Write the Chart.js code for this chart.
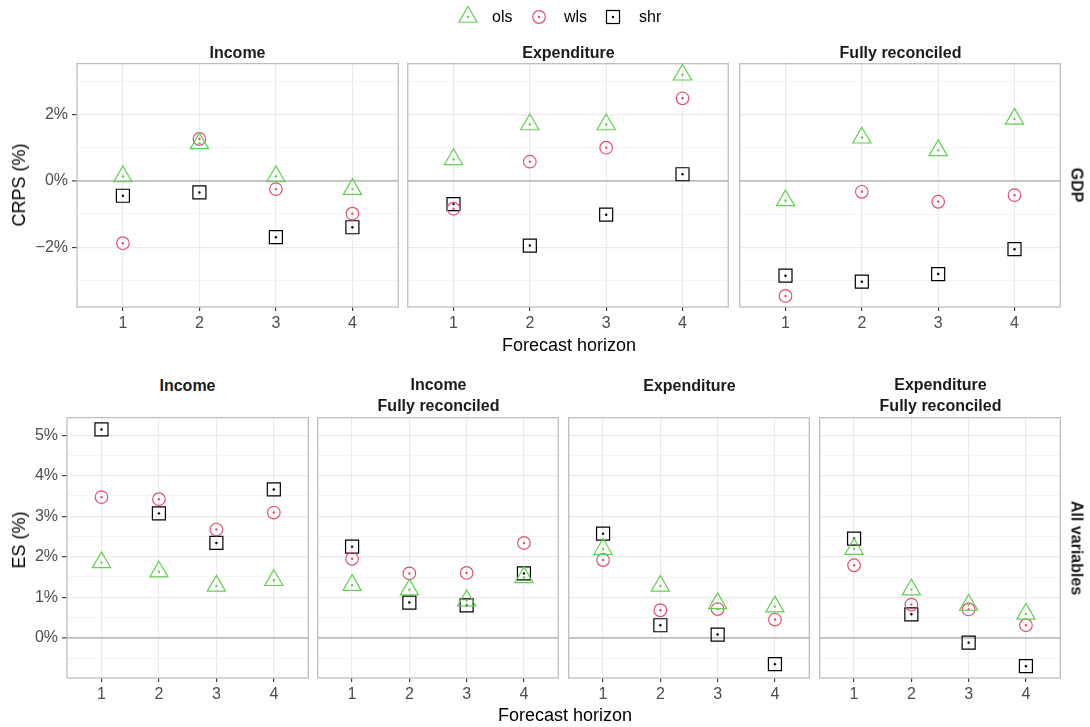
<!DOCTYPE html>
<html>
<head>
<meta charset="utf-8">
<script src="https://cdn.jsdelivr.net/npm/chart.js@4.4.1/dist/chart.umd.min.js"></script>
<style>
  body { margin: 0; background: #fff; font-family: "Liberation Sans", Arial, sans-serif; }
  #wrap { position: relative; width: 1090px; height: 727px; overflow: hidden; }
  #wrap canvas, .lbl, .leg { position: absolute; }
  .lbl { white-space: nowrap; transform: translate(-50%, -50%); line-height: 1; }
  .strip { font-weight: bold; font-size: 16px; color: #1A1A1A; text-align: center; line-height: 21px; }
  .axt { font-size: 18px; color: #000; }
  .leg { font-size: 16px; color: #000; line-height: 1; }
</style>
</head>
<body>
<div id="wrap"></div>
<script>
const horizons = [1, 2, 3, 4];
const methods = ['ols', 'wls', 'shr'];
const colours = { ols: '#61D04F', wls: '#DF536B', shr: '#000000' };
const shapes = { ols: 'triangle', wls: 'circle', shr: 'rect' };
const radii = { ols: 10.5, wls: 6.3, shr: 9.2 };

// CRPS, GDP row
const crpsIncomeOls = [0.13, 1.13, 0.13, -0.25];
const crpsIncomeWls = [-1.88, 1.26, -0.25, -0.99];
const crpsIncomeShr = [-0.45, -0.35, -1.70, -1.40];
const crpsExpOls = [0.65, 1.70, 1.70, 3.20];
const crpsExpWls = [-0.84, 0.58, 1.00, 2.49];
const crpsExpShr = [-0.70, -1.95, -1.02, 0.20];
const crpsFullOls = [-0.59, 1.30, 0.92, 1.87];
const crpsFullWls = [-3.47, -0.33, -0.63, -0.43];
const crpsFullShr = [-2.86, -3.04, -2.81, -2.06];

// ES, all variables row
const esIncomeOls = [1.86, 1.63, 1.28, 1.42];
const esIncomeWls = [3.47, 3.42, 2.67, 3.09];
const esIncomeShr = [5.14, 3.07, 2.34, 3.66];
const esIncFullOls = [1.30, 1.19, 0.92, 1.49];
const esIncFullWls = [1.95, 1.59, 1.60, 2.34];
const esIncFullShr = [2.25, 0.87, 0.80, 1.59];
const esExpOls = [2.19, 1.28, 0.85, 0.77];
const esExpWls = [1.92, 0.68, 0.71, 0.45];
const esExpShr = [2.57, 0.31, 0.08, -0.65];
const esExpFullOls = [2.19, 1.19, 0.81, 0.59];
const esExpFullWls = [1.79, 0.82, 0.70, 0.31];
const esExpFullShr = [2.45, 0.58, -0.12, -0.70];

const crpsTicks = [-3, -2, -1, 0, 1, 2, 3];
const esTicks = [-0.5, 0, 0.5, 1, 1.5, 2, 2.5, 3, 3.5, 4, 4.5, 5];

const FONT = '"Liberation Sans", Arial, sans-serif';
const wrap = document.getElementById('wrap');

function fmtPct(v) {
  return (v < 0 ? '\u2212' : '') + Math.abs(v) + '%';
}

// ggplot style 5% expansion of the data range
function expandRange(series) {
  const all = series.flat();
  const lo = Math.min(...all), hi = Math.max(...all);
  const pad = (hi - lo) * 0.05;
  return [lo - pad, hi + pad];
}

function label(text, cx, cy, cls, rot) {
  const d = document.createElement('div');
  d.className = 'lbl ' + cls;
  d.innerHTML = text;
  d.style.left = cx + 'px';
  d.style.top = cy + 'px';
  if (rot) d.style.transform = 'translate(-50%, -50%) rotate(' + rot + 'deg)';
  wrap.appendChild(d);
}

const frame = {
  id: 'frame',
  afterDraw(chart) {
    const a = chart.chartArea, g = chart.ctx;
    g.save();
    g.strokeStyle = '#BEBEBE';
    g.lineWidth = 1.3;
    g.strokeRect(a.left, a.top, a.right - a.left, a.bottom - a.top);
    g.restore();
  }
};

function makeCanvas(w, h) {
  const c = document.createElement('canvas');
  c.width = Math.round(w);
  c.height = Math.round(h);
  wrap.appendChild(c);
  return c;
}

function panelConfig(p) {
  const yw = p.yAxis ? 60 : 0;
  const datasets = [];
  methods.forEach(m => {
    const pts = horizons.map((h, i) => ({ x: h, y: p.values[m][i] }));
    datasets.push({
      label: m, data: pts, pointStyle: shapes[m], pointRadius: radii[m],
      borderColor: colours[m], backgroundColor: 'rgba(0,0,0,0)', borderWidth: 1.2, clip: false
    });
    datasets.push({
      label: m + ' centre', data: pts, pointStyle: 'circle', pointRadius: 1.2,
      borderWidth: 0, backgroundColor: colours[m], clip: false
    });
  });
  const isMajor = p.isMajor;
  return {
    type: 'scatter',
    data: { datasets },
    options: {
      responsive: false,
      maintainAspectRatio: false,
      animation: false,
      events: [],
      layout: { padding: { top: 8, right: 8, left: 0, bottom: 0 } },
      plugins: { legend: { display: false }, tooltip: { enabled: false } },
      scales: {
        x: {
          type: 'linear', min: 0.4, max: 4.6,
          afterBuildTicks: s => { s.ticks = horizons.map(v => ({ value: v })); },
          afterFit: s => { s.height = 34; },
          border: { display: false },
          grid: { color: '#EBEBEB', lineWidth: 1.2, tickColor: '#333333', tickLength: 4, tickWidth: 1.1 },
          ticks: { color: '#4D4D4D', font: { size: 16, family: FONT }, padding: 3, maxRotation: 0, autoSkip: false, callback: v => String(v) }
        },
        y: {
          type: 'linear', min: p.range[0], max: p.range[1],
          afterBuildTicks: s => { s.ticks = p.ticks.map(v => ({ value: v })); },
          afterFit: s => { s.width = yw; },
          border: { display: false },
          grid: {
            color: ctx => ctx.tick && ctx.tick.value === 0 ? '#BEBEBE' : (ctx.tick && isMajor(ctx.tick.value) ? '#EBEBEB' : '#F3F3F3'),
            lineWidth: ctx => ctx.tick && ctx.tick.value === 0 ? 1.8 : (ctx.tick && isMajor(ctx.tick.value) ? 1.2 : 0.8),
            tickColor: ctx => ctx.tick && isMajor(ctx.tick.value) ? '#333333' : 'rgba(0,0,0,0)',
            tickLength: p.yAxis ? 5 : 0,
            tickWidth: 1.1,
            drawTicks: p.yAxis
          },
          ticks: {
            display: p.yAxis, color: '#4D4D4D', font: { size: 16, family: FONT }, padding: 4,
            callback: v => isMajor(v) ? fmtPct(v) : ''
          }
        }
      }
    },
    plugins: [frame]
  };
}

// build once to measure the axis margins, then rebuild so the plot area lands on (x, y, w, h)
function panel(p) {
  let c = makeCanvas(p.w + 80, p.h + 60);
  let ch = new Chart(c, panelConfig(p));
  const a = ch.chartArea;
  const L = a.left, T = a.top, R = c.width - a.right, B = c.height - a.bottom;
  ch.destroy();
  c.remove();
  c = makeCanvas(L + p.w + R, T + p.h + B);
  c.style.left = (p.x - L) + 'px';
  c.style.top = (p.y - T) + 'px';
  new Chart(c, panelConfig(p));
}

// ---- top row: CRPS / GDP ----
const topSeries = [
  { title: 'Income', values: { ols: crpsIncomeOls, wls: crpsIncomeWls, shr: crpsIncomeShr } },
  { title: 'Expenditure', values: { ols: crpsExpOls, wls: crpsExpWls, shr: crpsExpShr } },
  { title: 'Fully reconciled', values: { ols: crpsFullOls, wls: crpsFullWls, shr: crpsFullShr } }
];
const topRange = expandRange(topSeries.flatMap(s => methods.map(m => s.values[m])));
const topX = [77, 408, 740];
topSeries.forEach((s, i) => {
  panel({ x: topX[i], y: 64, w: 321, h: 243, values: s.values, range: topRange,
          ticks: crpsTicks, isMajor: v => Math.abs(v % 2) < 1e-9, yAxis: i === 0 });
  label(s.title, topX[i] + 160.5, 52, 'strip');
});
label('GDP', 1077, 185, 'strip', 90);
label('CRPS (%)', 19, 185, 'axt', -90);
label('Forecast horizon', 569, 345, 'axt');

// ---- bottom row: ES / all variables ----
const botSeries = [
  { title: 'Income', values: { ols: esIncomeOls, wls: esIncomeWls, shr: esIncomeShr } },
  { title: 'Income<br>Fully reconciled', values: { ols: esIncFullOls, wls: esIncFullWls, shr: esIncFullShr } },
  { title: 'Expenditure', values: { ols: esExpOls, wls: esExpWls, shr: esExpShr } },
  { title: 'Expenditure<br>Fully reconciled', values: { ols: esExpFullOls, wls: esExpFullWls, shr: esExpFullShr } }
];
const botRange = expandRange(botSeries.flatMap(s => methods.map(m => s.values[m])));
const botX = [67, 318, 569, 820];
botSeries.forEach((s, i) => {
  panel({ x: botX[i], y: 418, w: 241, h: 260, values: s.values, range: botRange,
          ticks: esTicks, isMajor: v => Math.abs(v - Math.round(v)) < 1e-9, yAxis: i === 0 });
  label(s.title, botX[i] + 120.5, s.title.includes('<br>') ? 395 : 385, 'strip');
});
label('All variables', 1077, 548, 'strip', 90);
label('ES (%)', 19, 540, 'axt', -90);
label('Forecast horizon', 565, 715, 'axt');

// ---- legend ----
const legendItems = [
  { m: 'ols', cx: 467.5, tx: 492, svg: '<polygon points="11,2.5 20.1,18.25 1.9,18.25" fill="none" stroke="#61D04F" stroke-width="1.2"/><circle cx="11" cy="13" r="1.2" fill="#61D04F"/>' },
  { m: 'wls', cx: 539, tx: 564, svg: '<circle cx="11" cy="13" r="6.3" fill="none" stroke="#DF536B" stroke-width="1.2"/><circle cx="11" cy="13" r="1.2" fill="#DF536B"/>' },
  { m: 'shr', cx: 613, tx: 639, svg: '<rect x="4.5" y="6.5" width="13" height="13" fill="none" stroke="#000" stroke-width="1.2"/><circle cx="11" cy="13" r="1.2" fill="#000"/>' }
];
legendItems.forEach(it => {
  const s = document.createElement('div');
  s.className = 'leg';
  s.style.left = (it.cx - 11) + 'px';
  s.style.top = '4px';
  s.innerHTML = '<svg width="22" height="24">' + it.svg + '</svg>';
  wrap.appendChild(s);
  const t = document.createElement('div');
  t.className = 'leg';
  t.textContent = it.m;
  t.style.left = it.tx + 'px';
  t.style.top = '9px';
  wrap.appendChild(t);
});
</script>
</body>
</html>
